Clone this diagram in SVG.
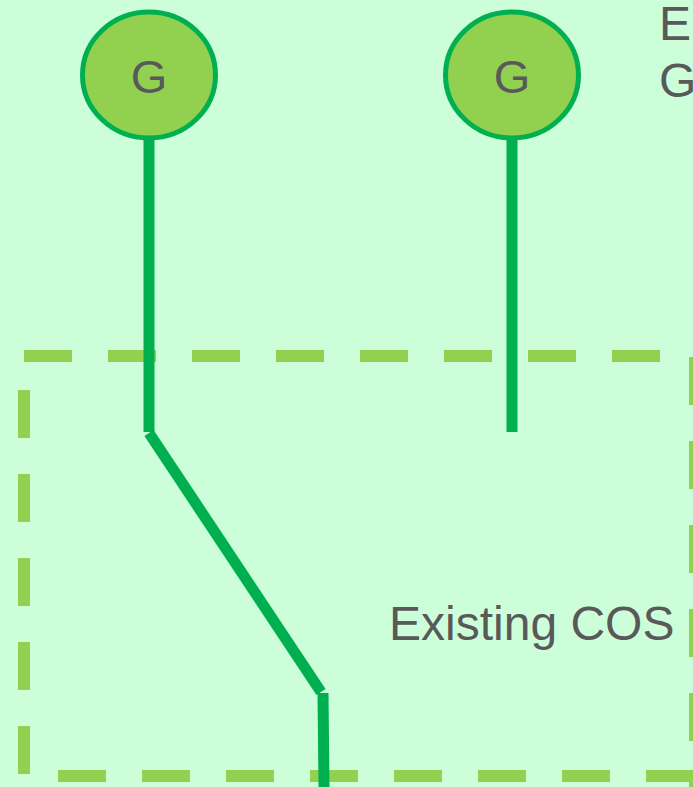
<svg xmlns="http://www.w3.org/2000/svg" width="693" height="787" viewBox="0 0 693 787">
  <style>
    .label { font-family: "Liberation Sans", Arial, sans-serif; fill: #595959; }
    .gen ellipse { fill: #92D050; stroke: #00B050; stroke-width: 5; }
    .feeder { stroke: #00B050; stroke-width: 11; fill: none; stroke-linecap: butt; }
    .boundary { stroke: #92D050; stroke-width: 12; fill: none; stroke-dasharray: 48 36; }
  </style>
  <rect x="0" y="0" width="693" height="787" fill="#CCFFD9"/>

  <!-- Existing COS boundary (dashed) -->
  <g id="cos-boundary">
    <line class="boundary" x1="24" y1="356" x2="720" y2="356"/>
    <line class="boundary" x1="695" y1="357" x2="695" y2="800"/>
    <line class="boundary" x1="58" y1="776" x2="720" y2="776"/>
    <line class="boundary" x1="24" y1="390" x2="24" y2="800"/>
  </g>

  <!-- Connectors -->
  <g id="connectors">
    <line class="feeder" x1="149" y1="138" x2="149" y2="432"/>
    <line class="feeder" x1="149" y1="433" x2="321" y2="692"/>
    <line class="feeder" x1="323" y1="693" x2="324" y2="787"/>
    <line class="feeder" x1="512" y1="138" x2="512" y2="432"/>
  </g>

  <!-- Generators -->
  <g id="gen-1" class="gen">
    <ellipse cx="149" cy="75" rx="66.5" ry="63"/>
    <text class="label" x="149" y="93" font-size="47" text-anchor="middle">G</text>
  </g>
  <g id="gen-2" class="gen">
    <ellipse cx="512" cy="75" rx="66.5" ry="63"/>
    <text class="label" x="512" y="93" font-size="47" text-anchor="middle">G</text>
  </g>

  <!-- Labels -->
  <g id="label-top">
    <text class="label" x="659" y="40" font-size="48">E</text>
    <text class="label" x="659" y="97" font-size="48">G</text>
  </g>
  <g id="label-cos">
    <text class="label" x="389" y="640" font-size="48">Existing COS</text>
  </g>
</svg>
